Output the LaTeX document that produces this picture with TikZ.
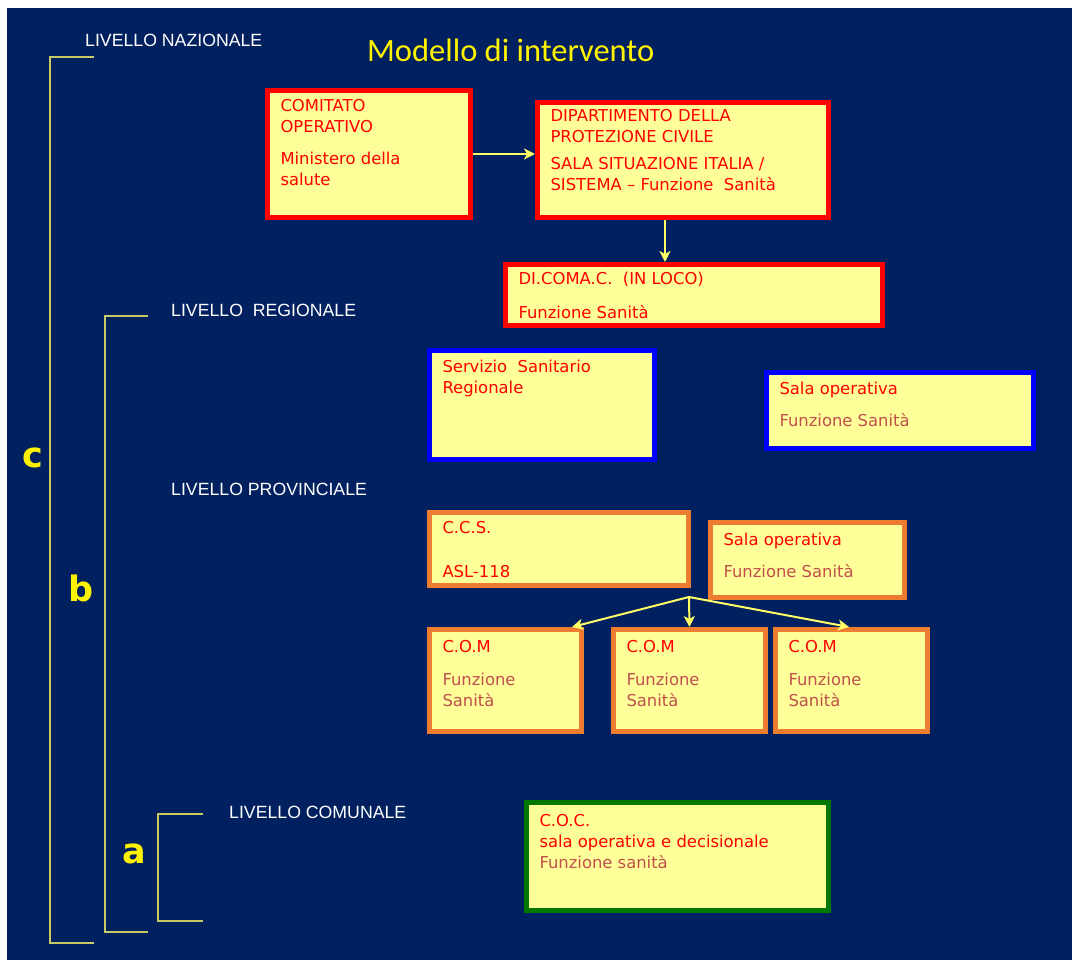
\documentclass[tikz,border=0pt]{standalone}
\usepackage{fontspec}
\usetikzlibrary{arrows.meta}
\setmainfont{DejaVu Sans}
\newfontfamily\titlefont{Carlito}
\newfontfamily\levelfont{Liberation Sans}
\newfontfamily\letterfont{DejaVu Sans}
\definecolor{navy}{HTML}{002060}
\definecolor{boxfill}{HTML}{FFFF99}
\definecolor{boxred}{HTML}{FF0000}
\definecolor{boxblue}{HTML}{0000FF}
\definecolor{boxorange}{HTML}{ED7D31}
\definecolor{boxgreen}{HTML}{007800}
\definecolor{soft}{HTML}{C0504D}
\definecolor{arrowyellow}{HTML}{FFFF66}
\definecolor{bracketline}{HTML}{C8C864}
\newcommand{\panel}[4]{\parbox[c][#2][t]{#1}{\raggedright\rule{0pt}{#3}#4}}
\begin{document}
\begin{tikzpicture}[x=1pt,y=-1pt]
 \tikzset{box/.style={draw=#1, line width=5pt, outer sep=2.5pt, fill=boxfill, inner xsep=13pt, inner ysep=0pt, anchor=north west, text=boxred, font=\fontsize{16.4}{21}\selectfont}}
 \tikzset{link/.style={draw=arrowyellow, line width=2pt, -{Stealth[length=11pt,width=11pt,inset=3pt]}}}
 \tikzset{level/.style={anchor=base west, inner sep=0pt, text=white, font=\levelfont\fontsize{17.7}{17.7}\selectfont}}
 \tikzset{letter/.style={anchor=base, text=yellow, font=\letterfont\bfseries\fontsize{35}{35}\selectfont}}
 \tikzset{bracket/.style={draw=bracketline, line width=1.5pt}}
  \useasboundingbox (0,0) rectangle (1072,960);
  \fill[white] (0,0) rectangle (1072,960);
  \fill[navy] (7,8) rectangle (1072,960);
  \node[anchor=base west, inner sep=0pt, text=yellow, font=\titlefont\fontsize{32.5}{32.5}\selectfont] (title) at (367,62) {Modello di intervento};
  \node[level] (naz) at (85,47) {LIVELLO NAZIONALE};
  \node[level] (reg) at (171,317) {LIVELLO\ \ REGIONALE};
  \node[level] (prov) at (171,495) {LIVELLO PROVINCIALE};
  \node[level] (comu) at (229,818) {LIVELLO COMUNALE};
  \draw[bracket] (94,57) -- (50,57) -- (50,943) -- (94,943);
  \draw[bracket] (148,316) -- (105,316) -- (105,932) -- (148,932);
  \draw[bracket] (203,814) -- (158,814) -- (158,921) -- (203,921);
  \node[letter] (c) at (33,467) {c};
  \node[letter] (b) at (81,601) {b};
  \node[letter] (a) at (134,863) {a};
  \node[box=boxred] (comitato) at (265,88) {\panel{177pt}{127pt}{21pt}{COMITATO\\OPERATIVO\\[11pt]Ministero della\\salute}};
  \node[box=boxred] (dpc) at (535,100) {\panel{265pt}{115pt}{19pt}{DIPARTIMENTO DELLA\\PROTEZIONE CIVILE\\[6pt]SALA SITUAZIONE ITALIA /\\SISTEMA -- Funzione\ \ Sanità}};
  \node[box=boxred] (dicomac) at (503,262) {\panel{351pt}{61pt}{20pt}{DI.COMA.C.\ \ (IN LOCO)\\[13pt]Funzione Sanità}};
  \node[box=boxblue] (ssr) at (427,348) {\panel{199pt}{109pt}{22pt}{Servizio\ \ Sanitario\\Regionale}};
  \node[box=boxblue] (salareg) at (764,370) {\panel{241pt}{76pt}{22pt}{Sala operativa\\[11pt]{\color{soft}Funzione Sanità}}};
  \node[box=boxorange] (ccs) at (427,510) {\panel{233pt}{73pt}{21pt}{C.C.S.\\[23pt]ASL-118}};
  \node[box=boxorange] (salaprov) at (708,520) {\panel{168pt}{75pt}{23pt}{Sala operativa\\[11pt]{\color{soft}Funzione Sanità}}};
  \node[box=boxorange] (com1) at (427,627) {\panel{126pt}{102pt}{23pt}{C.O.M\\[12pt]{\color{soft}Funzione\\Sanità}}};
  \node[box=boxorange] (com2) at (611,627) {\panel{126pt}{102pt}{23pt}{C.O.M\\[12pt]{\color{soft}Funzione\\Sanità}}};
  \node[box=boxorange] (com3) at (773,627) {\panel{126pt}{102pt}{23pt}{C.O.M\\[12pt]{\color{soft}Funzione\\Sanità}}};
  \node[box=boxgreen] (coc) at (524,800) {\panel{276pt}{108pt}{24pt}{C.O.C.\\sala operativa e decisionale\\{\color{soft}Funzione sanità}}};
  \coordinate (split) at (689,597);
  \draw[link] (comitato.east) -- (comitato.east -| dpc.west);
  \draw[link] ([xshift=-18pt]dpc.south) -- ([xshift=-18pt]dpc.south |- dicomac.north);
  \draw[link] (split) -- ([xshift=-12pt]com1.north east);
  \draw[link] (split) -- (com2.north);
  \draw[link] (split) -- ([xshift=76pt]com3.north west);
\end{tikzpicture}
\end{document}
